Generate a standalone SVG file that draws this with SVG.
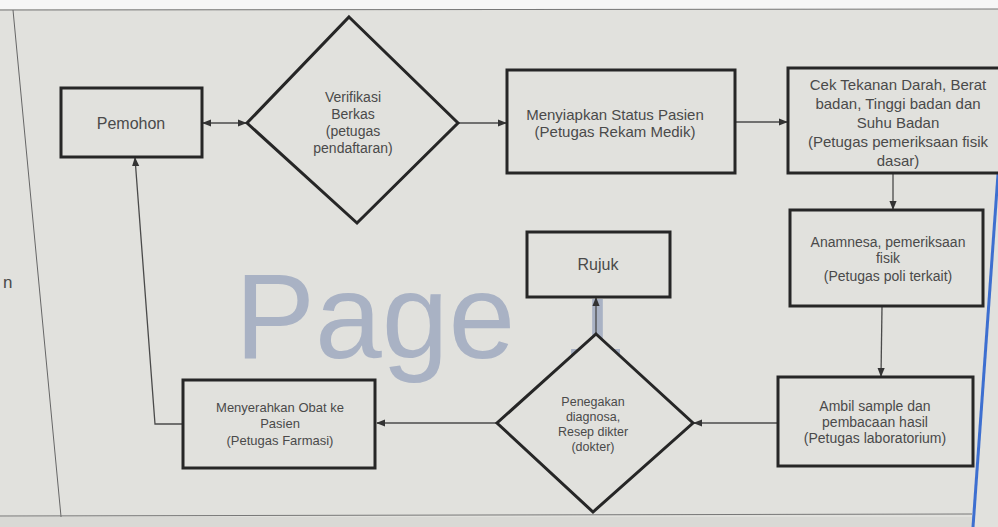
<svg xmlns="http://www.w3.org/2000/svg" width="998" height="527" viewBox="0 0 998 527">
<style>
.box{fill:#e1e1dd;stroke:#262626;stroke-width:3}
.dia{fill:#e1e1dd;stroke:#262626;stroke-width:3}
.t{font-family:"Liberation Sans",Arial,sans-serif;fill:#4a4a4a;text-anchor:middle}
.c{fill:none;stroke:#4a4a4a;stroke-width:1.3}
.wm{font-family:"Liberation Sans",Arial,sans-serif;font-size:120px;fill:#a9b2c4}
</style>
<defs>
<marker id="ah" viewBox="0 0 10 10" refX="9" refY="5" markerWidth="7" markerHeight="7" orient="auto-start-reverse">
<path d="M0,1 L10,5 L0,9 z" fill="#333"/>
</marker>
<clipPath id="below-rujuk"><rect x="540" y="299" width="80" height="80"/></clipPath>
</defs>
<rect x="0" y="0" width="998" height="527" fill="#e1e1dd"/>
<rect x="0" y="0" width="998" height="9" fill="#f6f6f6"/>
<line x1="0" y1="10" x2="998" y2="9" stroke="#777" stroke-width="1.2"/>
<line x1="13" y1="10" x2="62" y2="527" stroke="#666" stroke-width="1"/>
<line x1="0" y1="516" x2="972" y2="514" stroke="#777" stroke-width="1"/>
<rect x="0" y="517" width="972" height="10" fill="#d9d9d5"/>
<line x1="999" y1="160" x2="973" y2="527" stroke="#3d6fd0" stroke-width="3"/>
<text x="3" y="288" class="t" style="text-anchor:start;font-size:17px">n</text>
<text x="235" y="358" class="wm">Page</text>
<text x="562" y="358" class="wm" clip-path="url(#below-rujuk)">1</text>

<g id="connectors">
<line class="c" x1="203" y1="123" x2="246" y2="123" marker-start="url(#ah)" marker-end="url(#ah)"/>
<line class="c" x1="459" y1="123" x2="506" y2="123" marker-end="url(#ah)"/>
<line class="c" x1="736" y1="122" x2="787" y2="122" marker-end="url(#ah)"/>
<line class="c" x1="893" y1="174" x2="893" y2="209" marker-end="url(#ah)"/>
<line class="c" x1="882" y1="307" x2="881" y2="376" marker-end="url(#ah)"/>
<line class="c" x1="777" y1="423" x2="694" y2="423" marker-end="url(#ah)"/>
<line class="c" x1="596" y1="334" x2="596" y2="298" marker-end="url(#ah)"/>
<line class="c" x1="497" y1="423" x2="377" y2="423" marker-end="url(#ah)"/>
<polyline class="c" points="183,424 155,424 135,158" marker-end="url(#ah)"/>
</g>

<g id="pemohon">
<rect class="box" x="61" y="88" width="141" height="69"/>
<text class="t" x="131" y="129" style="font-size:16px">Pemohon</text>
</g>
<g id="verifikasi">
<polygon class="dia" points="349,17 458,123 357,223 247,123"/>
<g class="t" style="font-size:14px">
<text x="353" y="102">Verifikasi</text>
<text x="353" y="119">Berkas</text>
<text x="353" y="136">(petugas</text>
<text x="353" y="153">pendaftaran)</text>
</g>
</g>
<g id="menyiapkan">
<rect class="box" x="507" y="70" width="228" height="103"/>
<g class="t" style="font-size:15px">
<text x="615" y="120">Menyiapkan Status Pasien</text>
<text x="615" y="137">(Petugas Rekam Medik)</text>
</g>
</g>
<g id="cek">
<rect class="box" x="788" y="68" width="214" height="105"/>
<g class="t" style="font-size:15px">
<text x="898" y="90">Cek Tekanan Darah, Berat</text>
<text x="898" y="109">badan, Tinggi badan dan</text>
<text x="898" y="128">Suhu Badan</text>
<text x="898" y="147">(Petugas pemeriksaan fisik</text>
<text x="898" y="166">dasar)</text>
</g>
</g>
<g id="anamnesa">
<rect class="box" x="790" y="210" width="193" height="96"/>
<g class="t" style="font-size:14px">
<text x="888" y="247">Anamnesa, pemeriksaan</text>
<text x="888" y="263">fisik</text>
<text x="888" y="281">(Petugas poli terkait)</text>
</g>
</g>
<g id="ambil">
<rect class="box" x="778" y="377" width="195" height="89"/>
<g class="t" style="font-size:14px">
<text x="875" y="411">Ambil sample dan</text>
<text x="875" y="427">pembacaan hasil</text>
<text x="875" y="443">(Petugas laboratorium)</text>
</g>
</g>
<g id="penegakan">
<polygon class="dia" points="596,334 693,423 593,512 497,423"/>
<g class="t" style="font-size:12.5px">
<text x="593" y="406">Penegakan</text>
<text x="593" y="421">diagnosa,</text>
<text x="593" y="436">Resep dikter</text>
<text x="593" y="451">(dokter)</text>
</g>
</g>
<g id="rujuk">
<rect class="box" x="527" y="232" width="143" height="65"/>
<text class="t" x="598" y="270" style="font-size:16px">Rujuk</text>
</g>
<g id="menyerahkan">
<rect class="box" x="183" y="380" width="192" height="88"/>
<g class="t" style="font-size:13px">
<text x="280" y="412">Menyerahkan Obat ke</text>
<text x="280" y="428">Pasien</text>
<text x="280" y="445">(Petugas Farmasi)</text>
</g>
</g>
</svg>
